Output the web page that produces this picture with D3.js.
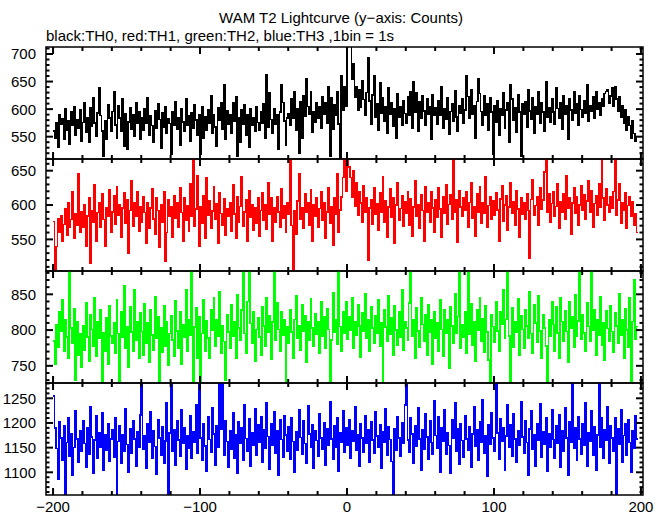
<!DOCTYPE html>
<html><head><meta charset="utf-8">
<script src="https://cdn.jsdelivr.net/npm/d3@7"></script>
<style>body{margin:0;background:#fff} svg{display:block} text{font-family:"Liberation Sans",Arial,Helvetica,sans-serif;fill:#000}</style>
</head><body><svg id="c" width="669" height="515"></svg>
<script>
const titleText = "WAM T2 Lightcurve (y\u2212axis: Counts)";
const subtitleText = "black:TH0, red:TH1, green:TH2, blue:TH3 ,1bin = 1s";
const binStart = -200; // first bin left edge, 1 bin = 1 s

const th0 = [
560,548,575,530,590,572,583,545,600,562,578,536,595,570,604,553,581,566,598,541,
576,612,558,585,540,603,569,621,575,551,593,639,588,560,515,579,545,608,584,560,
596,632,571,548,606,584,559,618,532,591,528,577,603,563,589,550,611,574,596,546,
584,562,601,575,620,553,588,570,540,597,566,609,581,529,593,568,605,556,582,574,
518,596,571,614,563,585,535,600,577,559,619,570,588,542,594,566,608,580,552,590,
518,604,547,586,561,598,574,625,556,590,568,532,602,579,611,563,645,545,597,572,
590,556,612,578,622,515,584,540,599,572,608,553,589,530,601,570,585,559,604,576,
562,596,574,610,548,663,567,629,581,556,600,573,589,528,595,645,612,578,535,584,
592,570,618,583,631,562,601,520,613,548,624,587,655,605,590,632,558,596,576,611,
584,604,566,623,590,612,575,640,515,620,564,608,588,632,573,508,660,598,640,605,
725,720,718,655,682,622,640,598,636,604,652,617,589,630,693,615,572,626,660,585,
610,562,648,593,620,578,605,556,639,590,612,569,600,548,628,586,604,570,615,592,
575,622,588,632,566,650,594,630,559,613,583,625,597,571,618,590,604,545,626,588,
603,572,616,589,640,565,600,582,621,554,596,610,578,633,586,560,607,592,618,575,
598,660,623,584,635,591,606,548,614,655,628,596,571,625,589,610,562,620,595,518,
607,576,615,552,600,588,630,566,598,612,540,645,618,580,603,558,626,595,515,609,
590,614,568,636,597,582,621,556,604,590,632,574,611,595,560,650,586,603,577,619,
595,572,638,601,584,612,563,625,590,606,545,619,598,580,632,592,610,570,624,599,
586,615,592,645,578,607,596,622,583,631,600,612,589,618,605,628,632,635,610,624,
638,606,640,618,596,622,585,607,574,598,562,586,570,548,579,556,541,550];

const th1 = [
576,505,540,580,560,585,548,572,594,556,603,567,579,620,552,588,571,645,560,590,
568,600,540,584,610,515,592,575,630,548,589,603,567,617,579,540,596,583,622,561,
590,613,572,627,585,601,553,596,618,574,608,530,592,636,569,604,584,620,562,598,
575,612,589,545,603,566,596,624,580,557,610,592,538,601,575,619,518,560,607,583,
597,553,614,581,603,568,625,589,547,611,578,599,562,631,584,668,569,594,643,540,
598,574,613,552,640,585,606,566,591,627,579,602,545,618,588,571,609,556,595,583,
604,562,629,587,551,612,575,598,641,569,590,608,548,621,582,600,564,596,573,610,
554,592,618,578,601,565,633,587,610,548,596,575,612,590,567,624,581,599,560,603,
586,668,570,503,592,558,606,645,580,596,566,617,589,604,571,622,547,600,583,611,
567,595,619,578,604,552,590,625,573,598,541,611,586,646,561,593,612,640,668,620,
668,655,640,612,650,598,632,585,620,603,575,628,590,611,520,596,608,572,625,586,
602,563,618,590,641,575,606,553,597,624,582,610,545,600,633,578,595,614,569,605,
588,620,571,609,554,597,636,583,601,566,615,592,548,627,589,604,575,619,596,560,
607,582,625,594,553,612,588,630,572,601,615,579,668,590,608,546,621,597,583,611,
592,620,568,604,633,581,598,555,616,590,627,574,603,588,641,567,599,612,580,606,
585,618,593,547,609,628,576,600,614,563,597,632,588,605,571,621,594,553,610,587,
603,579,616,592,522,608,637,585,599,612,570,625,594,607,648,668,589,616,575,602,
620,584,598,631,566,605,590,617,579,642,596,610,558,603,625,588,612,571,600,628,
593,615,580,606,636,589,621,567,602,614,585,631,597,668,610,578,623,600,589,612,
596,620,668,585,607,631,574,603,592,618,566,599,612,583,605,571,588,560];

const th2 = [
785,752,808,776,825,798,842,770,815,790,760,882,803,781,830,730,812,765,795,748,
806,772,838,790,756,821,801,778,845,764,812,789,828,726,796,770,817,752,834,792,
781,810,768,843,795,726,826,790,862,775,805,748,832,797,770,856,786,812,760,824,
798,765,837,782,810,755,828,793,772,846,788,819,726,803,769,834,777,812,751,795,
820,786,764,841,799,775,826,752,808,790,857,770,815,793,882,728,804,831,760,818,
726,795,842,771,813,789,760,829,800,845,777,815,792,853,768,806,784,730,822,797,
774,835,791,812,760,849,803,786,828,882,795,768,840,882,809,781,826,757,801,817,
790,765,832,806,778,845,797,820,759,811,882,786,838,801,770,826,793,814,726,805,
782,829,797,761,815,848,788,806,772,835,799,820,755,812,786,844,803,777,823,794,
811,768,839,792,818,774,830,801,726,786,852,797,815,780,882,805,771,826,795,840,
787,819,800,845,775,812,793,836,806,762,824,798,851,789,814,770,833,803,782,820,
796,842,778,810,726,829,804,785,848,794,817,765,834,800,779,826,790,857,772,811,
803,786,838,882,792,815,760,831,799,776,845,808,784,822,765,836,797,814,752,825,
789,810,770,843,801,763,828,795,814,747,832,806,782,851,796,819,882,775,808,790,
826,768,882,794,837,779,811,756,829,800,845,784,816,769,834,797,758,726,821,805,
783,840,799,771,826,808,857,788,815,882,792,726,831,776,812,797,844,765,820,801,
774,829,806,788,853,795,767,836,810,783,848,799,761,821,803,778,726,815,792,840,
808,771,833,796,760,845,812,785,827,798,755,839,803,819,776,850,791,813,882,787,
822,796,771,838,805,784,882,800,829,765,815,793,846,779,810,758,827,802,785,834,
798,769,824,806,782,851,793,815,761,830,800,776,845,726,812,870,787,805];

const th3 = [
1255,1190,1148,1085,1202,1170,1125,1195,1054,1160,1210,1132,1178,1095,1150,1225,1168,1120,1185,1142,
1205,1158,1110,1190,1136,1232,1172,1098,1165,1214,1128,1181,1150,1220,1104,1176,1145,1198,1122,1168,
1186,1130,1210,1054,1162,1195,1118,1177,1143,1228,1156,1100,1189,1138,1205,1167,1112,1183,1150,1216,
1281,1146,1175,1108,1198,1160,1222,1129,1184,1152,1096,1207,1170,1135,1193,1118,1163,1240,1054,1180,
1281,1142,1186,1115,1204,1165,1132,1226,1158,1190,1106,1175,1148,1214,1128,1182,1160,1236,1138,1281,
1170,1124,1198,1153,1102,1212,1166,1140,1230,1178,1115,1194,1150,1281,1188,1281,1135,1205,1162,1110,
1185,1146,1220,1128,1176,1098,1202,1158,1190,1124,1236,1169,1143,1208,1112,1180,1155,1228,1134,1196,
1160,1212,1120,1187,1148,1240,1173,1106,1198,1155,1222,1138,1184,1095,1206,1166,1130,1215,1176,1142,
1193,1126,1210,1162,1100,1182,1145,1226,1171,1136,1204,1158,1118,1235,1178,1150,1196,1108,1185,1164,
1132,1218,1170,1146,1200,1115,1188,1155,1242,1168,1127,1194,1150,1210,1102,1180,1160,1225,1140,1190,
1155,1206,1128,1184,1163,1232,1145,1176,1112,1198,1170,1140,1215,1158,1186,1120,1202,1165,1138,1222,
1174,1150,1196,1108,1183,1160,1228,1135,1192,1166,1122,1054,1188,1145,1212,1170,1132,1200,1158,1236,
1281,1165,1140,1210,1178,1118,1195,1152,1230,1168,1104,1186,1146,1218,1172,1126,1204,1160,1137,1245,
1175,1148,1212,1100,1190,1162,1226,1136,1181,1154,1098,1206,1170,1240,1142,1188,1116,1198,1164,1130,
1215,1168,1145,1192,1110,1178,1232,1152,1186,1124,1202,1160,1248,1138,1175,1093,1196,1156,1220,1170,
1142,1281,1180,1126,1208,1163,1190,1105,1174,1236,1150,1196,1133,1218,1167,1120,1185,1155,1242,1172,
1138,1204,1160,1095,1188,1224,1146,1176,1112,1199,1165,1238,1130,1182,1156,1210,1102,1178,1150,1226,
1166,1128,1195,1158,1217,1110,1184,1143,1230,1170,1094,1202,1160,1281,1148,1190,1125,1212,1168,1136,
1198,1155,1240,1112,1180,1162,1225,1135,1192,1104,1176,1281,1150,1210,1128,1186,1164,1232,1118,1195,
1170,1142,1210,1054,1188,1156,1226,1120,1175,1198,1135,1206,1160,1100,1185,1148,1215,1168];

const seriesValues = [th0, th1, th2, th3];
const seriesColors = ["#000000", "#ff0000", "#00ff00", "#0000ff"];
const yDomains = [[509.5, 712.7], [504, 667], [726, 882.6], [1054, 1281]];
const yTickLabels = [[550, 600, 650, 700], [550, 600, 650], [750, 800, 850], [1100, 1150, 1200, 1250]];
const xTickLabels = [-200, -100, 0, 100, 200];

const svg = d3.select("#c");
const L = 46, R = 643, T = 47, PH = 112;
const x = d3.scaleLinear().domain([-204.8, 201.4]).range([L, R]);

svg.append("text").attr("x", 341).attr("y", 23).attr("text-anchor", "middle")
  .style("font-size", "15px").text(titleText);
svg.append("text").attr("x", 46).attr("y", 41)
  .style("font-size", "15px").text(subtitleText);

const xMinor = d3.range(-200, 201, 20);

seriesValues.forEach((vals, p) => {
  const top = T + p * PH, bot = top + PH;
  const y = d3.scaleLinear().domain(yDomains[p]).range([bot, top]);
  const g = svg.append("g");
  const cid = "clip" + p;
  svg.append("clipPath").attr("id", cid).append("rect")
    .attr("x", L).attr("y", top).attr("width", R - L).attr("height", PH);
  const pts = vals.map((v, i) => [binStart + i, v]);
  pts.push([binStart + vals.length, vals[vals.length - 1]]);
  const line = d3.line().x(d => x(d[0])).y(d => y(d[1])).curve(d3.curveStepAfter);
  g.append("path").attr("clip-path", `url(#${cid})`).attr("d", line(pts))
    .attr("fill", "none").attr("stroke", seriesColors[p]).attr("stroke-width", 1.5)
    .attr("shape-rendering", "crispEdges");

  // frame
  g.append("rect").attr("x", L).attr("y", top).attr("width", R - L).attr("height", PH)
    .attr("fill", "none").attr("stroke", "#000").attr("stroke-width", 1.5);

  // x ticks top & bottom (inward)
  xMinor.forEach(v => {
    const major = v % 100 === 0;
    const len = major ? 7 : 4;
    g.append("line").attr("x1", x(v)).attr("x2", x(v)).attr("y1", top).attr("y2", top + len)
      .attr("stroke", "#000").attr("stroke-width", 2);
    g.append("line").attr("x1", x(v)).attr("x2", x(v)).attr("y1", bot).attr("y2", bot - len)
      .attr("stroke", "#000").attr("stroke-width", 2);
  });

  // y ticks left & right (inward)
  const [d0, d1] = yDomains[p];
  d3.range(Math.ceil(d0 / 10) * 10, d1, 10).forEach(v => {
    const major = v % 50 === 0;
    const len = major ? 7 : 3.5;
    g.append("line").attr("x1", L).attr("x2", L + len).attr("y1", y(v)).attr("y2", y(v))
      .attr("stroke", "#000").attr("stroke-width", 2);
    g.append("line").attr("x1", R).attr("x2", R - len).attr("y1", y(v)).attr("y2", y(v))
      .attr("stroke", "#000").attr("stroke-width", 2);
  });
  yTickLabels[p].forEach(v => {
    g.append("text").attr("x", 36).attr("y", y(v)).attr("dy", "0.36em")
      .attr("text-anchor", "end").style("font-size", "15px").text(v);
  });
  if (p === 3) {
    const fmt = d3.format("d");
    xTickLabels.forEach(v => {
      g.append("text").attr("x", x(v)).attr("y", 512).attr("text-anchor", "middle")
        .style("font-size", "15px").text(fmt(v));
    });
  }
});
</script></body></html>
